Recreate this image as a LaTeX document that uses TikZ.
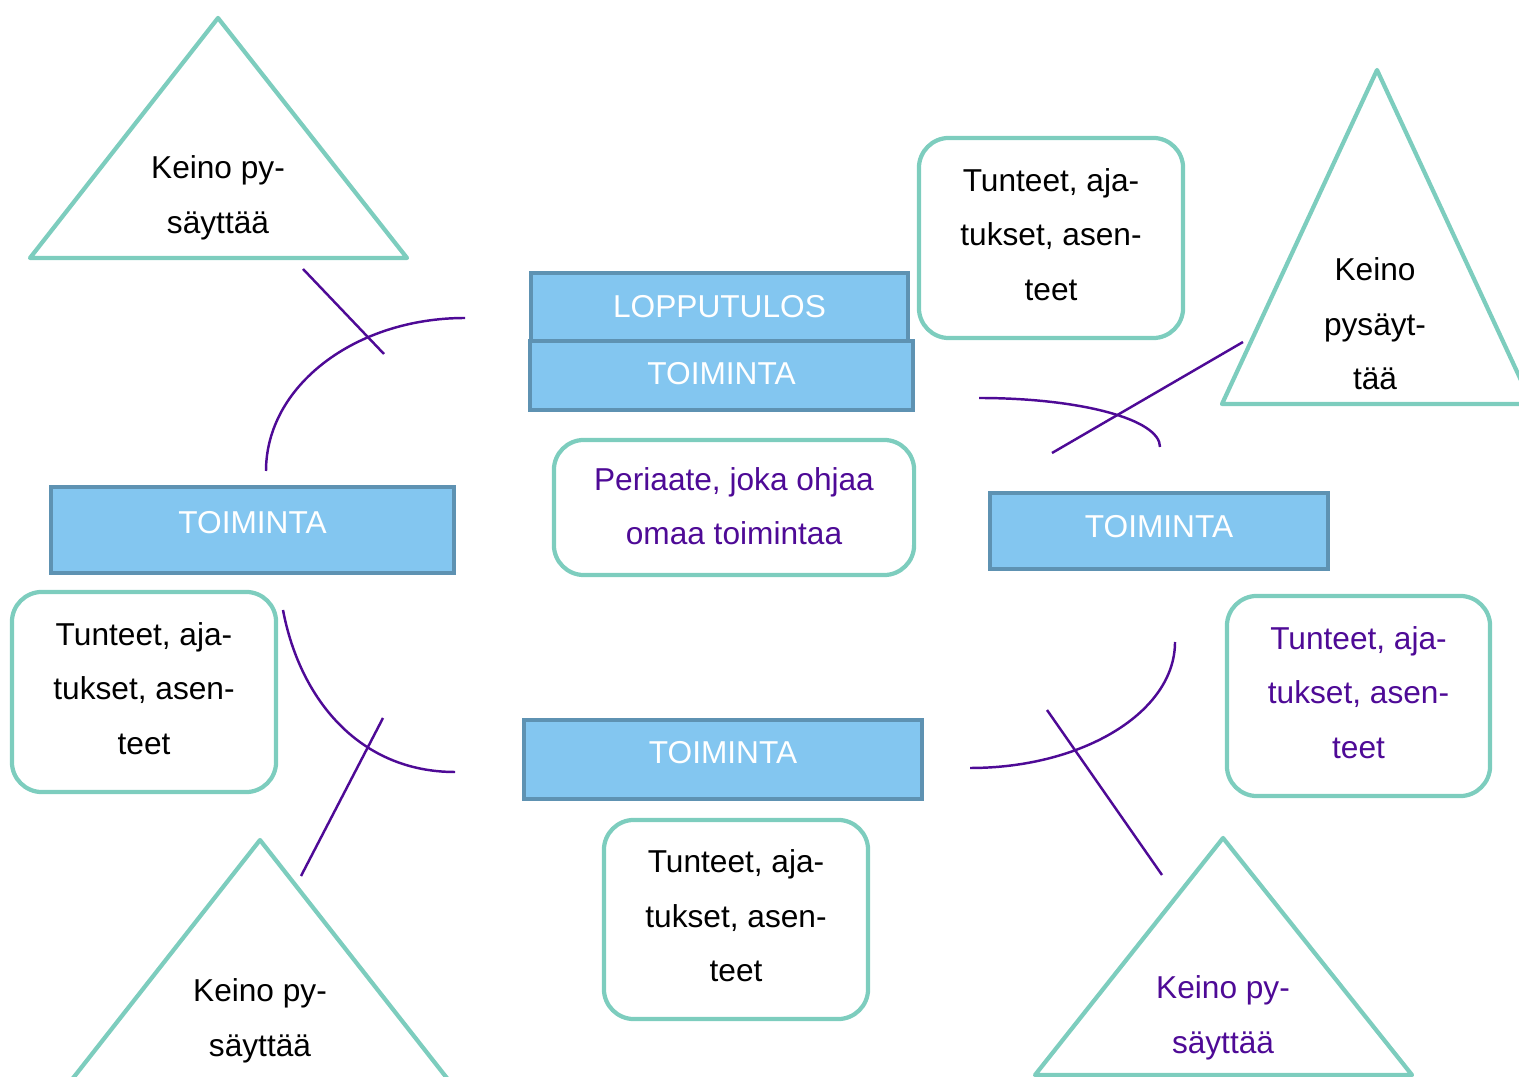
\documentclass[tikz,border=0pt]{standalone}
\usepackage{fontspec}
\setmainfont{Liberation Sans}
\usepackage{xcolor}
\usetikzlibrary{positioning,calc}
\definecolor{teal1}{RGB}{125,205,190}
\definecolor{sky1}{RGB}{131,198,240}
\definecolor{edge1}{RGB}{94,146,178}
\definecolor{purp1}{RGB}{78,10,150}
\begin{document}
\begin{tikzpicture}[x=0.01cm,y=-0.01cm,
   txt/.style={font=\fontsize{9}{15.5}\selectfont,align=center,inner sep=0pt},
   bluebox/.style={draw=edge1,fill=sky1,line width=1.3pt,text=white,txt},
   note/.style={draw=teal1,line width=1.2pt,rounded corners=0.3cm,txt,text depth=0.07cm},
   tri/.style={draw=teal1,line width=1.2pt,line join=round},
   link/.style={draw=purp1,line width=0.7pt}]
 \clip (0,0) rectangle (1519,1077);
 % triangles
 \draw[tri] (218,18) -- (407,258) -- (30,258) -- cycle;
 \draw[tri] (1377,70) -- (1532,404) -- (1222,404) -- cycle;
 \draw[tri] (260,840) -- (450,1082) -- (70,1082) -- cycle;
 \draw[tri] (1223,838) -- (1412,1075) -- (1035,1075) -- cycle;
 \node[txt] (k1) at (218,198) {Keino py-\\säyttää};
 \node[txt] (k2) at (1375,324) {Keino\\pysäyt-\\tää};
 \node[txt] (k3) at (260,1021) {Keino py-\\säyttää};
 \node[txt,text=purp1] (k4) at (1223,1018) {Keino py-\\säyttää};
 % blue boxes
 \node[bluebox,minimum width=3.77cm,minimum height=0.68cm] (lop) at (719.5,307) {LOPPUTULOS};
 \node[bluebox,minimum width=3.83cm,minimum height=0.69cm,text depth=0.04cm] (tm) at (721.5,375.5) {TOIMINTA};
 \node[bluebox,minimum width=4.03cm,minimum height=0.86cm,text depth=0.16cm] (tl) at (252.5,530) {TOIMINTA};
 \node[bluebox,minimum width=3.38cm,minimum height=0.76cm,text depth=0.1cm] (tr) at (1159,531) {TOIMINTA};
 \node[bluebox,minimum width=3.98cm,minimum height=0.79cm,text depth=0.14cm] (tb) at (723,759.5) {TOIMINTA};
 % rounded notes
 \node[note,minimum width=2.64cm,minimum height=2.0cm] (n1) at (1051,238) {Tunteet, aja-\\tukset, asen-\\teet};
 \node[note,minimum width=3.6cm,minimum height=1.35cm,text=purp1,text depth=0.03cm] (n2) at (734,507.5) {Periaate, joka ohjaa\\omaa toimintaa};
 \node[note,minimum width=2.64cm,minimum height=2.0cm] (n3) at (144,692) {Tunteet, aja-\\tukset, asen-\\teet};
 \node[note,minimum width=2.63cm,minimum height=2.0cm,text=purp1] (n4) at (1358.5,696) {Tunteet, aja-\\tukset, asen-\\teet};
 \node[note,minimum width=2.64cm,minimum height=1.99cm] (n5) at (736,919.5) {Tunteet, aja-\\tukset, asen-\\teet};
 % purple arcs and strokes
 \coordinate (a1) at (266,471);   \coordinate (a2) at (465,318);
 \coordinate (b1) at (979,398);   \coordinate (b2) at (1160,447);
 \coordinate (c1) at (283,610);   \coordinate (c2) at (455,772);
 \coordinate (d1) at (1175,642);  \coordinate (d2) at (970,768);
 \draw[link] (a1) .. controls (266,386) and (355,318) .. (a2);
 \draw[link] (b1) .. controls (1079,398) and (1160,419) .. (b2);
 \draw[link] (c1) .. controls (300,700) and (360,772) .. (c2);
 \draw[link] (d1) .. controls (1175,712) and (1083,768) .. (d2);
 \draw[link] (303,269) -- (384,354);
 \draw[link] (1052,453) -- (1243,342);
 \draw[link] (301,876) -- (383,718);
 \draw[link] (1047,710) -- (1162,875);
\end{tikzpicture}
\end{document}
